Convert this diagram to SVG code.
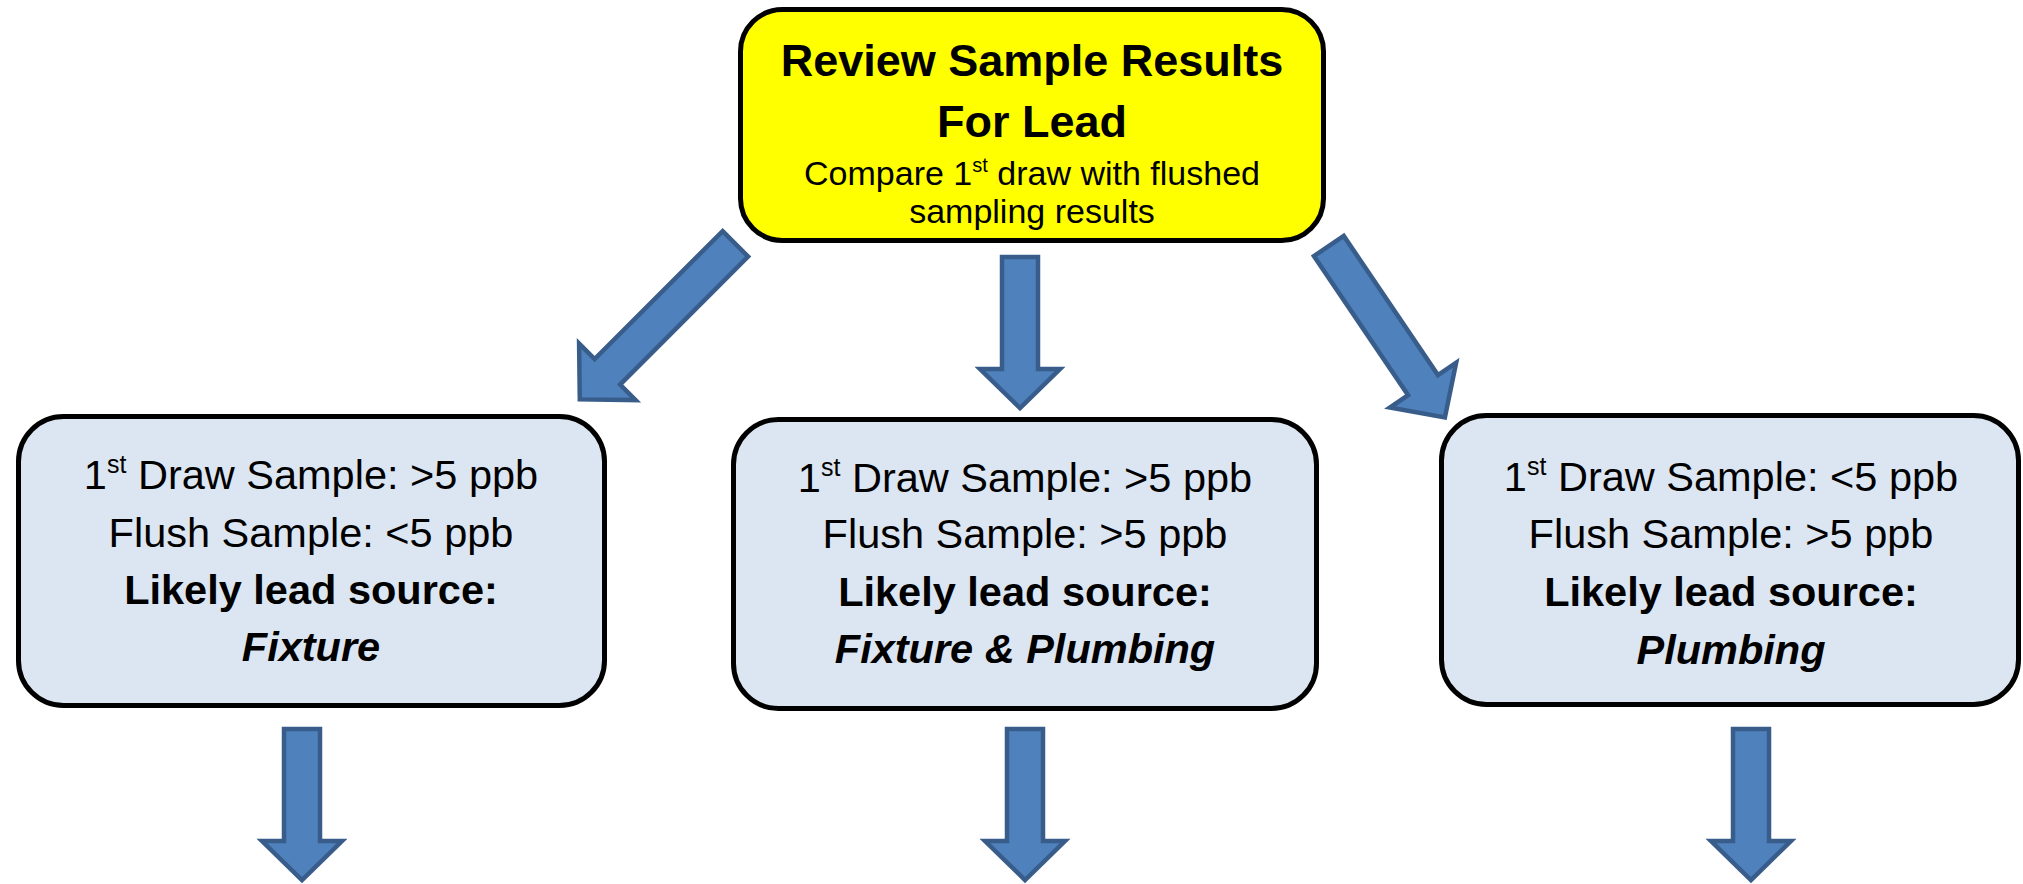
<svg xmlns="http://www.w3.org/2000/svg" width="2023" height="884" viewBox="0 0 2023 884">
<style>
  .box { stroke: #000000; stroke-width: 5; }
  .top { fill: #FFFF00; }
  .res { fill: #DCE6F2; }
  .arrow { fill: #4F81BD; stroke: #385D8A; stroke-width: 4.5; stroke-linejoin: miter; }
  text { font-family: "Liberation Sans", Arial, sans-serif; fill: #000000; text-anchor: middle; }
  .title { font-size: 45px; font-weight: bold; }
  .sub { font-size: 34px; }
  .body { font-size: 41.5px; }
  .bold { font-weight: bold; }
  .bi { font-weight: bold; font-style: italic; }
</style>
<rect width="2023" height="884" fill="#FFFFFF"/>

<g id="connectors">
  <polygon class="arrow" transform="translate(579.8,399.4) rotate(45)" points="-18,-220 18,-220 18,-39 40,-39 0,0 -40,-39 -18,-39"/>
  <polygon class="arrow" transform="translate(1020,408)" points="-18,-151 18,-151 18,-39 40,-39 0,0 -40,-39 -18,-39"/>
  <polygon class="arrow" transform="translate(1444.9,417.4) rotate(-34.1)" points="-18,-207 18,-207 18,-39 40,-39 0,0 -40,-39 -18,-39"/>
  <polygon class="arrow" transform="translate(302,880)" points="-18,-151 18,-151 18,-39 40,-39 0,0 -40,-39 -18,-39"/>
  <polygon class="arrow" transform="translate(1025,880)" points="-18,-151 18,-151 18,-39 40,-39 0,0 -40,-39 -18,-39"/>
  <polygon class="arrow" transform="translate(1751,880)" points="-18,-151 18,-151 18,-39 40,-39 0,0 -40,-39 -18,-39"/>
</g>

<g id="review">
  <rect class="box top" x="740.5" y="9.5" width="583" height="231" rx="42" ry="42"/>
  <text class="title" x="1032" y="76">Review Sample Results</text>
  <text class="title" x="1032" y="137">For Lead</text>
  <text class="sub" x="1032" y="185">Compare 1<tspan font-size="20" dy="-13">st</tspan><tspan dy="13"> draw with flushed</tspan></text>
  <text class="sub" x="1032" y="223">sampling results</text>
</g>

<g id="fixture">
  <rect class="box res" x="18.5" y="416.5" width="586" height="289" rx="45" ry="45"/>
  <text class="body" x="311" y="489">1<tspan font-size="25" dy="-16">st</tspan><tspan dy="16"> Draw Sample: &gt;5 ppb</tspan></text>
  <text class="body" x="311" y="547">Flush Sample: &lt;5 ppb</text>
  <text class="body bold" x="311" y="604">Likely lead source:</text>
  <text class="body bi" x="311" y="661">Fixture</text>
</g>

<g id="fixture-plumbing">
  <rect class="box res" x="733.5" y="419.5" width="583" height="289" rx="45" ry="45"/>
  <text class="body" x="1025" y="492">1<tspan font-size="25" dy="-16">st</tspan><tspan dy="16"> Draw Sample: &gt;5 ppb</tspan></text>
  <text class="body" x="1025" y="548">Flush Sample: &gt;5 ppb</text>
  <text class="body bold" x="1025" y="606">Likely lead source:</text>
  <text class="body bi" x="1025" y="663">Fixture &amp; Plumbing</text>
</g>

<g id="plumbing">
  <rect class="box res" x="1441.5" y="415.5" width="577" height="289" rx="45" ry="45"/>
  <text class="body" x="1731" y="491">1<tspan font-size="25" dy="-16">st</tspan><tspan dy="16"> Draw Sample: &lt;5 ppb</tspan></text>
  <text class="body" x="1731" y="548">Flush Sample: &gt;5 ppb</text>
  <text class="body bold" x="1731" y="606">Likely lead source:</text>
  <text class="body bi" x="1731" y="664">Plumbing</text>
</g>
</svg>
